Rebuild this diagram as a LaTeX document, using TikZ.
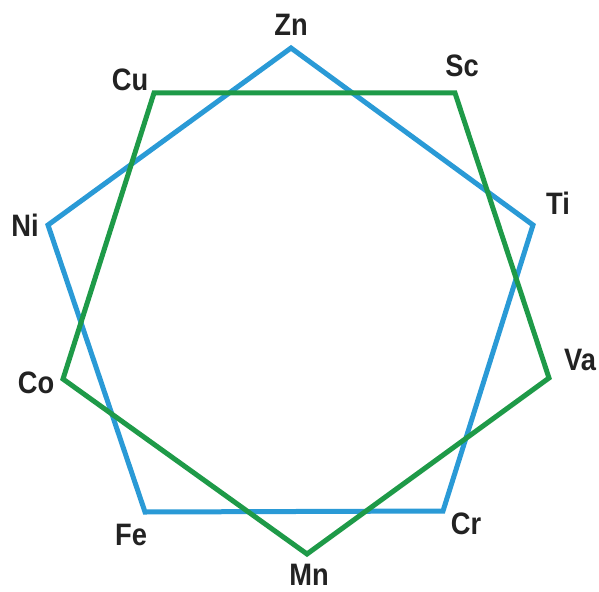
\documentclass[tikz,border=0pt]{standalone}
\usepackage{fontspec}
\setmainfont{Liberation Sans}[FakeStretch=0.88]
\definecolor{pblue}{HTML}{2A9AD6}
\definecolor{pgreen}{HTML}{1E9A48}
\definecolor{ltext}{HTML}{222222}
\begin{document}
\begin{tikzpicture}[x=1pt,y=-1pt,
  lbl/.style={font=\fontsize{31}{33}\selectfont\bfseries, text=ltext, inner sep=0pt},
  poly/.style={line width=5pt, line join=miter}]
\useasboundingbox (0,0) rectangle (599,591);
% blue pentagon vertices
\coordinate (zn) at (291,48);
\coordinate (ti) at (533,225);
\coordinate (cr) at (443,511);
\coordinate (fe) at (145,512);
\coordinate (ni) at (48,225);
% green pentagon vertices
\coordinate (cu) at (154,93);
\coordinate (sc) at (455,93);
\coordinate (va) at (549,378);
\coordinate (mn) at (307,554);
\coordinate (co) at (63,379);
\draw[poly, pblue] (zn) -- (ti) -- (cr) -- (fe) -- (ni) -- cycle;
\draw[poly, pgreen] (cu) -- (sc) -- (va) -- (mn) -- (co) -- cycle;
% labels
\node[lbl] (lzn) at (291,25) {Zn};
\node[lbl] (lsc) at (462,66) {Sc};
\node[lbl] (lcu) at (130,80) {Cu};
\node[lbl] (lti) at (558,203) {Ti};
\node[lbl] (lni) at (25,225) {Ni};
\node[lbl] (lva) at (580,360) {Va};
\node[lbl] (lco) at (36,383) {Co};
\node[lbl] (lfe) at (131,535) {Fe};
\node[lbl] (lcr) at (466,524) {Cr};
\node[lbl] (lmn) at (309,575) {Mn};
\end{tikzpicture}
\end{document}
